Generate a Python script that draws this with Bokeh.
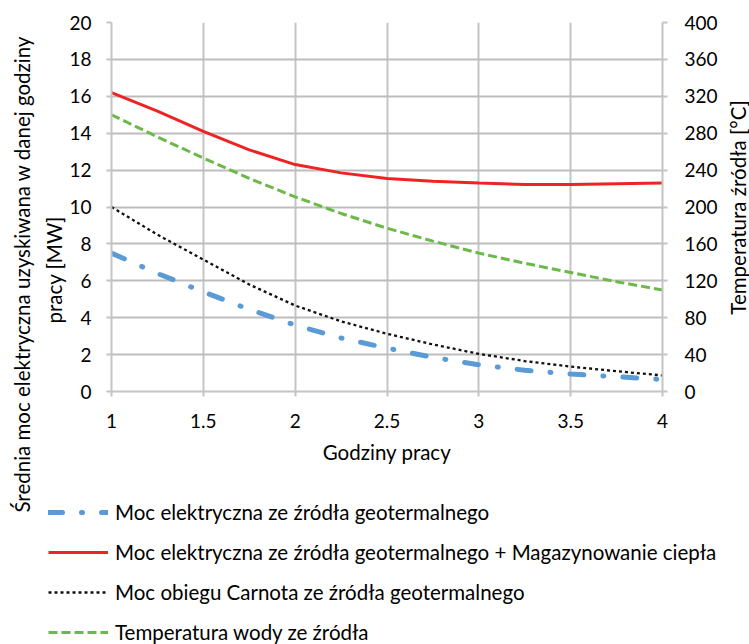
import math
from bokeh.plotting import figure
from bokeh.models import Range1d, LinearAxis, FixedTicker, Legend, LegendItem, Title, Label
from bokeh.layouts import column, row
from bokeh.embed import file_html
from bokeh.resources import INLINE

# ---------------- data ----------------
hours = [1.0, 1.25, 1.5, 1.75, 2.0, 2.25, 2.5, 2.75, 3.0, 3.25, 3.5, 3.75, 4.0]
geo_power = [7.5, 6.4, 5.4, 4.45, 3.6, 2.9, 2.35, 1.85, 1.45, 1.15, 0.95, 0.8, 0.65]
geo_storage_power = [16.2, 15.2, 14.1, 13.1, 12.3, 11.85, 11.55, 11.4, 11.3, 11.22, 11.22, 11.26, 11.3]
carnot_power = [10.0, 8.5, 7.15, 5.8, 4.66, 3.8, 3.13, 2.55, 2.04, 1.65, 1.35, 1.1, 0.87]
water_temp = [300, 276, 253, 231, 211, 193, 177, 163, 150, 139, 129, 119, 110]

x_ticks = [1.0, 1.5, 2.0, 2.5, 3.0, 3.5, 4.0]
x_tick_labels = ["1", "1.5", "2", "2.5", "3", "3.5", "4"]
left_ticks = [0, 2, 4, 6, 8, 10, 12, 14, 16, 18, 20]
right_ticks = [0, 40, 80, 120, 160, 200, 240, 280, 320, 360, 400]

series_names = [
    "Moc elektryczna ze źródła geotermalnego",
    "Moc elektryczna ze źródła geotermalnego + Magazynowanie ciepła",
    "Moc obiegu Carnota ze źródła geotermalnego",
    "Temperatura wody ze źródła",
]
x_title = "Godziny pracy"
left_title_lines = ["Średnia moc elektryczna uzyskiwana w  danej godziny", "pracy [MW]"]
right_title = "Temperatura źródła [°C]"

# ---------------- style / layout ----------------
FONT = "Lato"
TXT = "20.5px"
BLUE, RED, BLACK, GREEN = "#5b9bd5", "#ee2424", "#111111", "#6cb94a"
GRID = "#c4c4c4"

TOTAL_W, TOTAL_H = 749, 644
LEFT_W = 36                      # strip holding the outer left title line
RIGHT_W = 26                     # strip holding the right title
BL, BR, BT, BB = 111 - LEFT_W, 61, 22, 87
FW, FH = 551, 369
MAIN_W = TOTAL_W - LEFT_W - RIGHT_W
MAIN_H = BT + FH + BB
LEG_H = TOTAL_H - MAIN_H


def strip(width):
    f = figure(width=width, height=TOTAL_H, x_range=Range1d(0, width), y_range=Range1d(0, TOTAL_H),
               x_axis_type=None, y_axis_type=None, output_backend="svg", toolbar_location=None,
               frame_align=False,
               min_border_left=0, min_border_right=0, min_border_top=0, min_border_bottom=0)
    f.outline_line_color = None
    f.grid.visible = False
    return f


p = figure(frame_width=FW, frame_height=FH, x_range=Range1d(1, 4), y_range=Range1d(0, 20),
           output_backend="svg", toolbar_location=None, frame_align=False,
           min_border_left=BL, min_border_right=BR, min_border_top=BT, min_border_bottom=BB)
p.outline_line_color = None
p.extra_y_ranges = {"temp": Range1d(0, 400)}

p.xgrid.ticker = FixedTicker(ticks=x_ticks)
p.ygrid.ticker = FixedTicker(ticks=left_ticks)
p.xgrid.grid_line_color = GRID
p.xgrid.grid_line_width = 2
p.ygrid.grid_line_color = "#bdbdbd"
p.ygrid.grid_line_width = 2

right_axis = LinearAxis(y_range_name="temp")
p.add_layout(right_axis, "right")

p.xaxis.ticker = FixedTicker(ticks=x_ticks)
p.xaxis.major_label_overrides = {t: l for t, l in zip(x_ticks, x_tick_labels)}
p.yaxis[0].ticker = FixedTicker(ticks=left_ticks)
right_axis.ticker = FixedTicker(ticks=right_ticks)

for ax in [p.xaxis[0], p.yaxis[0], right_axis]:
    ax.axis_line_color = GRID
    ax.axis_line_width = 2
    ax.major_tick_line_color = GRID
    ax.major_tick_line_width = 2
    ax.major_tick_in = 0
    ax.major_tick_out = 5
    ax.minor_tick_line_color = None
    ax.major_label_text_font = FONT
    ax.major_label_text_font_size = "19px"
    ax.major_label_text_color = "#000000"
    ax.major_label_standoff = 17

p.yaxis[0].major_label_standoff = 15
p.xaxis.major_label_standoff = 17
p.xaxis.axis_label = x_title
p.xaxis.axis_label_text_font = FONT
p.xaxis.axis_label_text_font_size = TXT
p.xaxis.axis_label_text_font_style = "normal"
p.xaxis.axis_label_text_color = "#000000"
p.xaxis.axis_label_standoff = 9

# inner left title line
t2 = Title(text=left_title_lines[1], align="left", offset=68, standoff=2,
           text_font=FONT, text_font_size=TXT, text_font_style="normal", text_color="#000000")
p.add_layout(t2, "left")

# lines
styles = [
    dict(line_color=BLUE, line_width=5, line_dash="14 19 1 19", line_cap="round"),
    dict(line_color=RED, line_width=3),
    dict(line_color=BLACK, line_width=2.3, line_dash="3 3"),
    dict(line_color=GREEN, line_width=3, line_dash="9 4"),
]
p.line(hours, geo_power, **styles[0])
p.line(hours, carnot_power, **styles[2])
p.line(hours, water_temp, y_range_name="temp", **styles[3])
p.line(hours, geo_storage_power, **styles[1])

# ---------------- outer left title strip ----------------
s_left = strip(LEFT_W)
s_left.add_layout(Label(x=21, y=TOTAL_H - 271, text=left_title_lines[0], angle=math.pi / 2,
                        text_align="center", text_baseline="middle", text_font=FONT,
                        text_font_size=TXT, text_color="#000000"))

# ---------------- right title strip ----------------
s_right = strip(RIGHT_W)
s_right.add_layout(Label(x=14, y=TOTAL_H - 207, text=right_title, angle=math.pi / 2,
                         text_align="center", text_baseline="middle", text_font=FONT,
                         text_font_size=TXT, text_color="#000000"))

# ---------------- legend strip ----------------
q = figure(width=MAIN_W, height=LEG_H, x_range=Range1d(100, 101), y_range=Range1d(100, 101),
           x_axis_type=None, y_axis_type=None, output_backend="svg", toolbar_location=None,
           frame_align=False,
           min_border_left=0, min_border_right=0, min_border_top=0, min_border_bottom=0)
q.outline_line_color = None
q.grid.visible = False

leg_series = [geo_power, geo_storage_power, carnot_power, water_temp]
leg_renderers = [q.line(hours, sr, **st) for sr, st in zip(leg_series, styles)]

legend = Legend(items=[LegendItem(label=n, renderers=[r]) for n, r in
                       zip(series_names, leg_renderers)],
                location=(48 - LEFT_W, 0), orientation="vertical",
                glyph_width=60, glyph_height=20, label_height=20, spacing=16,
                padding=0, margin=0, border_line_color=None, background_fill_alpha=0,
                label_text_font=FONT, label_text_font_size=TXT, label_standoff=7,
                label_text_color="#000000")
q.add_layout(legend)

layout = row(s_left, column(p, q, spacing=0), s_right, spacing=0)
open("out.html", "w").write(file_html(layout, INLINE))
